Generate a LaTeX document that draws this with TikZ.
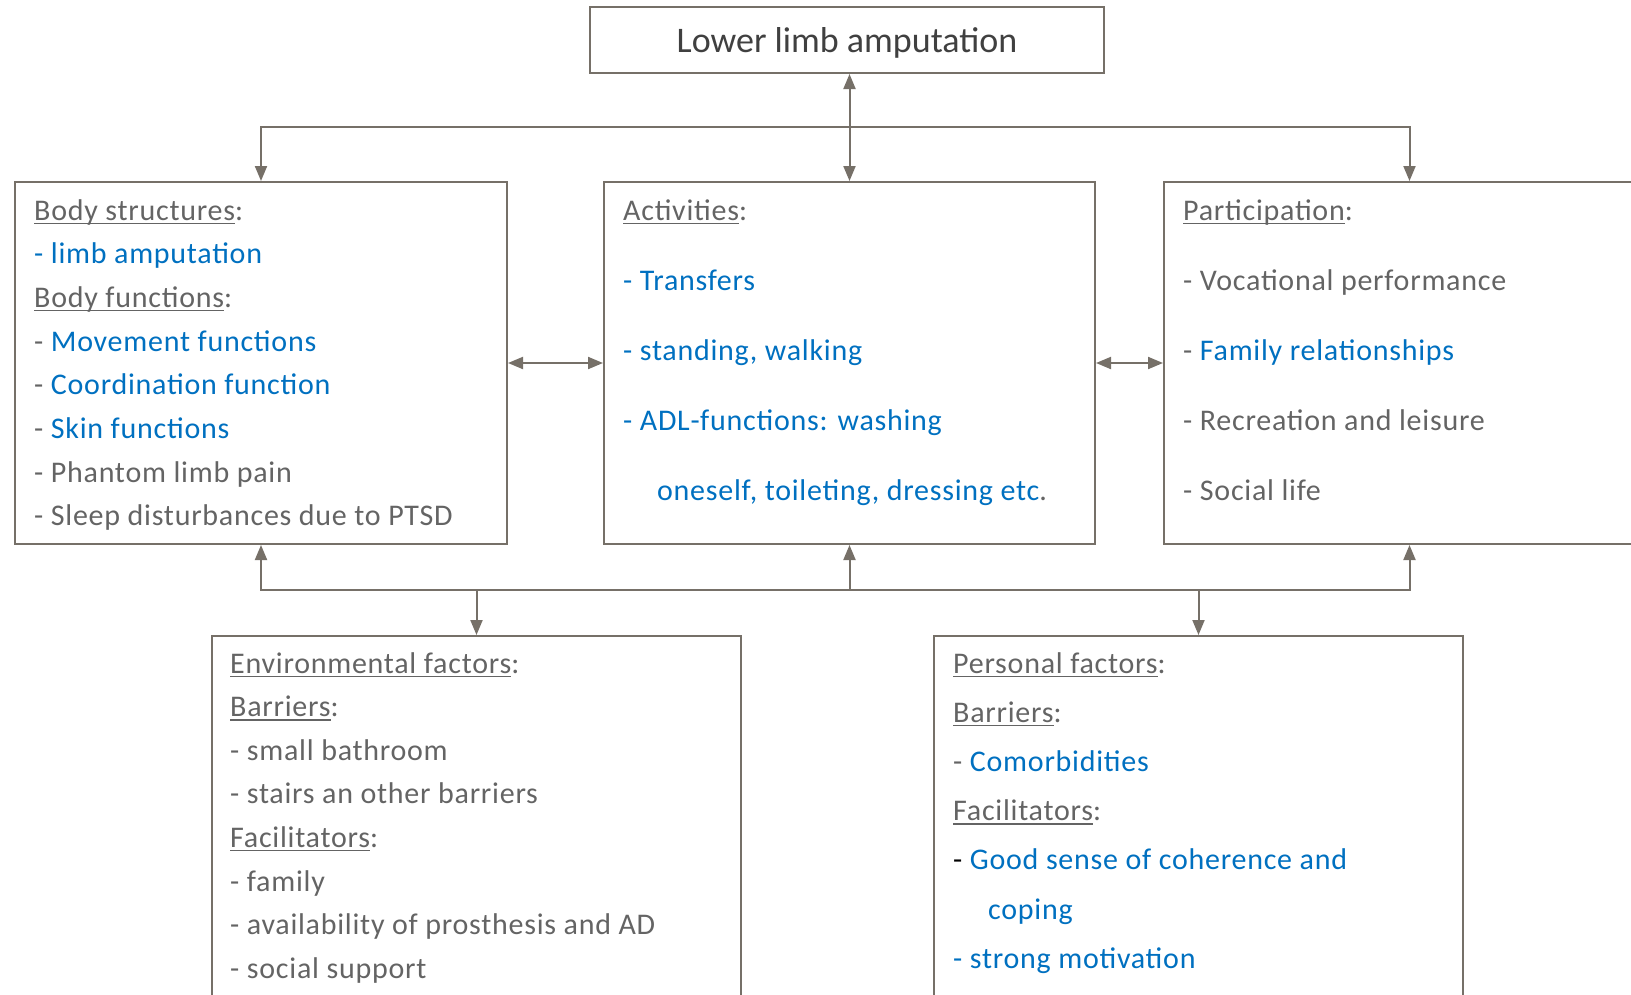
\documentclass[tikz,border=0pt]{standalone}
\usepackage{fontspec}
\setmainfont{Carlito}
\newfontfamily\boxfont{Carlito}[LetterSpace=2.5]
\usetikzlibrary{arrows.meta}
\definecolor{linegray}{RGB}{118,112,104}
\definecolor{txtgray}{RGB}{100,100,100}
\definecolor{txtblue}{RGB}{0,112,192}
\definecolor{titlegray}{RGB}{64,64,64}
\newsavebox{\hdbox}
\newcommand{\hd}[1]{\sbox{\hdbox}{#1}\rlap{\rule[-4pt]{\wd\hdbox}{1.4pt}}\usebox{\hdbox}:}
\newcommand{\bl}[1]{\textcolor{txtblue}{#1}}
\begin{document}
\begin{tikzpicture}[x=1pt,y=-1pt,
    box/.style={draw=linegray, line width=2pt, inner sep=0pt, anchor=north west},
    txt/.style={anchor=base west, inner sep=0pt, text=txtgray, font=\boxfont\fontsize{30}{34}\selectfont},
    link/.style={draw=linegray, line width=2pt, -{Triangle[length=15pt,width=12pt]}},
    dlink/.style={link, {Triangle[length=15pt,width=12pt]}-{Triangle[length=15pt,width=12pt]}}]
                \useasboundingbox (0,0) rectangle (1631,994);
                \node[box, anchor=center, minimum width=514pt, minimum height=66pt, text height=26pt, text depth=2pt,
                    text=titlegray, font=\fontsize{36}{40}\selectfont] (top) at (847,40) {Lower limb amputation};
                \node[box, minimum width=492pt, minimum height=362pt] (body) at (14,181) {};
                \node[box, minimum width=491pt, minimum height=362pt] (act) at (603,181) {};
                \node[box, minimum width=491pt, minimum height=362pt] (part) at (1163,181) {};
                \node[box, minimum width=529pt, minimum height=380pt] (env) at (211,635) {};
                \node[box, minimum width=529pt, minimum height=380pt] (pers) at (933,635) {};
                \coordinate (uphub) at (act.north |- 0,127);
                \coordinate (lowhub) at (act.south |- 0,590);
                \draw[dlink] (top.south -| act.north) -- (act.north);
                \draw[link] (uphub) -| (body.north);
                \draw[link] (uphub) -| (part.north);
                \draw[dlink] (body.east) -- (act.west);
                \draw[dlink] (act.east) -- (part.west);
                \draw[link] (lowhub) -- (act.south);
                \draw[link] (lowhub) -| (body.south);
                \draw[link] (lowhub) -| (part.south);
                \draw[link] (lowhub) -| (env.north);
                \draw[link] (lowhub) -| (pers.north);
                \foreach \line [count=\i] in {\hd{Body structures}, \bl{- limb amputation}, \hd{Body functions},
                    - \bl{Movement functions}, - \bl{Coordination function}, - \bl{Skin functions},
                    - Phantom limb pain, - Sleep disturbances due to PTSD}
                    \node[txt, name=body\i] at (34,{220+43.7*(\i-1)}) {\line};
                \foreach \line [count=\i] in {\hd{Activities}, \bl{- Transfers}, \bl{- standing, walking},
                    \bl{- ADL-functions: washing}, \hspace*{34pt}\bl{oneself, toileting, dressing etc}.}
                    \node[txt, name=act\i] at (623,{220+70*(\i-1)}) {\line};
                \foreach \line [count=\i] in {\hd{Participation}, - Vocational performance,
                    - \bl{Family relationships}, - Recreation and leisure, - Social life}
                    \node[txt, name=part\i] at (1183,{220+70*(\i-1)}) {\line};
                \foreach \line [count=\i] in {\hd{Environmental factors}, \hd{Barriers}, - small bathroom,
                    - stairs an other barriers, \hd{Facilitators}, - family,
                    - availability of prosthesis and AD, - social support}
                    \node[txt, name=env\i] at (230,{673+43.6*(\i-1)}) {\line};
                \foreach \line [count=\i] in {\hd{Personal factors}, \hd{Barriers}, - \bl{Comorbidities},
                    \hd{Facilitators}, \textcolor{black}{-} \bl{Good sense of coherence and},
                    \hspace*{35pt}\bl{coping}, \bl{- strong motivation}}
                    \node[txt, name=pers\i] at (953,{673+49.2*(\i-1)}) {\line};
            \end{tikzpicture}
\end{document}
